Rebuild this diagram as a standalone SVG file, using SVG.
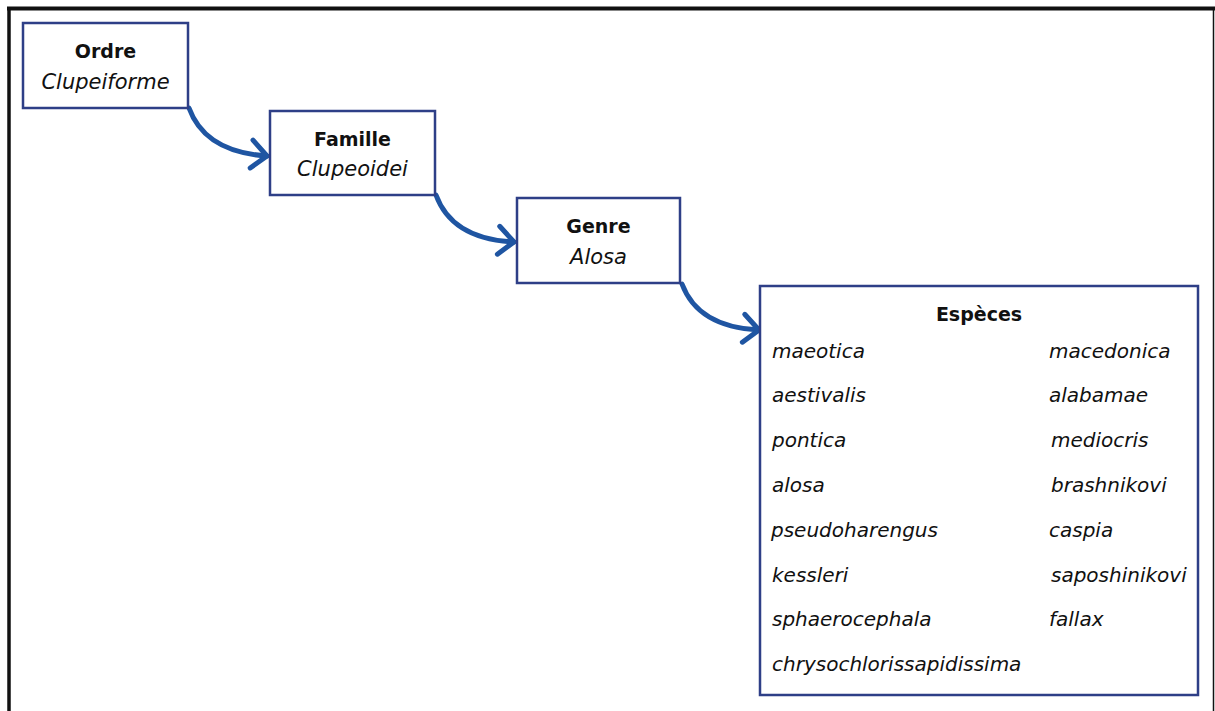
<svg xmlns="http://www.w3.org/2000/svg" width="1215" height="711" viewBox="0 0 1215 711">
<style>
.box{fill:#fff;stroke:#2E3F87;stroke-width:2.5}
.t{font-family:"DejaVu Sans",sans-serif;fill:#111}
.h{font-weight:bold;font-size:19px;text-anchor:middle}
.s{font-style:italic;font-size:21px;text-anchor:middle}
.sp{font-style:italic;font-size:20px}
.conn{fill:none;stroke:#1F55A2;stroke-width:5;stroke-linecap:round}
</style>
<defs>
<marker id="chev" markerUnits="userSpaceOnUse" viewBox="-25 -25 50 50" refX="0" refY="0" markerWidth="50" markerHeight="50" orient="auto" overflow="visible">
<path d="M-15,-15 L0,0 L-16,13" fill="none" stroke="#1F55A2" stroke-width="5" stroke-linecap="round" stroke-linejoin="round"/>
</marker>
</defs>
<rect width="1215" height="711" fill="#fff"/>
<g id="frame" stroke="#111" fill="none">
<line x1="7" y1="8.5" x2="1215" y2="8.5" stroke-width="4"/>
<line x1="9" y1="7" x2="9" y2="711" stroke-width="3.5"/>
<line x1="1213.5" y1="8" x2="1213.5" y2="711" stroke-width="1.5"/>
</g>
<g id="connectors">
<path class="conn" d="M189,108 Q205,152 267,156" marker-end="url(#chev)"/>
<path class="conn" d="M436,195 Q452,239 514,242" marker-end="url(#chev)"/>
<path class="conn" d="M682,284 Q698,327 759,330" marker-end="url(#chev)"/>
</g>
<g id="ordre">
<rect class="box" x="23" y="23" width="165" height="85"/>
<text class="t h" x="105.5" y="58">Ordre</text>
<text class="t s" x="105.5" y="89">Clupeiforme</text>
</g>
<g id="famille">
<rect class="box" x="270" y="111" width="165" height="84"/>
<text class="t h" x="352.5" y="146">Famille</text>
<text class="t s" x="352.5" y="176">Clupeoidei</text>
</g>
<g id="genre">
<rect class="box" x="517" y="198" width="163" height="85"/>
<text class="t h" x="598.5" y="233">Genre</text>
<text class="t s" x="598.5" y="264">Alosa</text>
</g>
<g id="especes">
<rect class="box" x="760" y="286" width="438" height="409"/>
<text class="t h" x="979" y="321">Espèces</text>
<text class="t sp" x="772" y="358">maeotica</text>
<text class="t sp" x="772" y="402">aestivalis</text>
<text class="t sp" x="772" y="447">pontica</text>
<text class="t sp" x="772" y="492">alosa</text>
<text class="t sp" x="771" y="537">pseudoharengus</text>
<text class="t sp" x="772" y="582">kessleri</text>
<text class="t sp" x="772" y="626">sphaerocephala</text>
<text class="t sp" x="772" y="671">chrysochlorissapidissima</text>
<text class="t sp" x="1049" y="358">macedonica</text>
<text class="t sp" x="1049" y="402">alabamae</text>
<text class="t sp" x="1051" y="447">mediocris</text>
<text class="t sp" x="1051" y="492">brashnikovi</text>
<text class="t sp" x="1049" y="537">caspia</text>
<text class="t sp" x="1051" y="582">saposhinikovi</text>
<text class="t sp" x="1049" y="626">fallax</text>
</g>
</svg>
